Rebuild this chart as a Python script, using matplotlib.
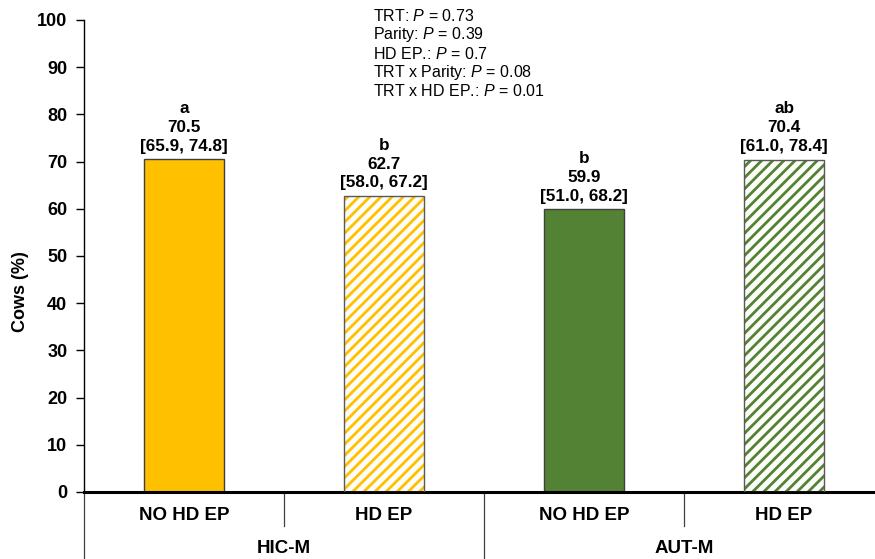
import matplotlib
matplotlib.use('Agg')
from matplotlib import pyplot as plt
from matplotlib.transforms import blended_transform_factory

# Estimated least-squares means with 95% CI, by treatment and HD EP status
groups = ['HIC-M', 'AUT-M']
ep_labels = ['NO HD EP', 'HD EP', 'NO HD EP', 'HD EP']
means = [70.5, 62.7, 59.9, 70.4]
ci_low = [65.9, 58.0, 51.0, 61.0]
ci_high = [74.8, 67.2, 68.2, 78.4]
letters = ['a', 'b', 'b', 'ab']
yticks = [0, 10, 20, 30, 40, 50, 60, 70, 80, 90, 100]
stats = [
    ('TRT', '0.73'),
    ('Parity', '0.39'),
    ('HD EP.', '0.7'),
    ('TRT x Parity', '0.08'),
    ('TRT x HD EP.', '0.01'),
]

yellow = '#FFC000'
green = '#548235'
bar_colors = [yellow, yellow, green, green]
hatched = [False, True, False, True]

plt.rcParams['font.family'] = ['Liberation Sans', 'DejaVu Sans']
plt.rcParams['mathtext.fontset'] = 'custom'
plt.rcParams['mathtext.rm'] = 'Liberation Sans'
plt.rcParams['mathtext.it'] = 'Liberation Sans:italic'
plt.rcParams['hatch.linewidth'] = 2.0

fig = plt.figure(figsize=(8.75, 5.59), dpi=100)
ax = fig.add_axes([0.096, 0.1199, 0.9143, 0.8444])

x = list(range(len(means)))
for i in x:
    if hatched[i]:
        ax.bar(i, means[i], width=0.4, color='#FCFCF8', edgecolor=bar_colors[i],
               hatch='///', linewidth=0, zorder=2)
        ax.bar(i, means[i], width=0.4, fill=False, edgecolor='#595959',
               linewidth=1, zorder=3)
    else:
        ax.bar(i, means[i], width=0.4, color=bar_colors[i], edgecolor='#404040',
               linewidth=1, zorder=2)
    label = '{}\n{:.1f}\n[{:.1f}, {:.1f}]'.format(letters[i], means[i], ci_low[i], ci_high[i])
    ax.annotate(label, (i, means[i]), xytext=(0, 4), textcoords='offset points',
                ha='center', va='bottom', fontsize=12.3, fontweight='bold',
                linespacing=1.32)

ax.set_xlim(-0.5, 3.5)
ax.set_ylim(0, 100)
ax.set_yticks(yticks)
ax.set_yticklabels([str(t) for t in yticks], fontsize=13, fontweight='bold')
ax.tick_params(axis='y', direction='out', length=6, width=1, pad=6)
ax.set_xticks([])
for side in ['top', 'right']:
    ax.spines[side].set_visible(False)
ax.spines['left'].set_linewidth(1)
ax.spines['bottom'].set_linewidth(2.2)

# two-level category axis below the bars
trans = blended_transform_factory(ax.transData, ax.transAxes)
for sep in [-0.5, 0.5, 1.5, 2.5, 3.5]:
    bottom = -0.073 if sep in (0.5, 2.5) else -0.2
    ax.plot([sep, sep], [0, bottom], color='#404040', lw=0.9,
            transform=trans, clip_on=False)
for i, lab in enumerate(ep_labels):
    ax.text(i, -0.049, lab, transform=trans, ha='center', va='center',
            fontsize=13.5, fontweight='bold')
for g, name in enumerate(groups):
    ax.text(2 * g + 0.5, -0.119, name, transform=trans, ha='center', va='center',
            fontsize=13.5, fontweight='bold')

fig.text(0.023, 0.478, 'Cows (%)', rotation=90, ha='center', va='center',
         fontsize=13, fontweight='bold')

stat_text = '\n'.join('{}: $P$ = {}'.format(k, v) for k, v in stats)
fig.text(0.426, 0.986, stat_text, ha='left', va='top', fontsize=11.5,
         linespacing=1.1)

fig.savefig('out.png', dpi=100)
